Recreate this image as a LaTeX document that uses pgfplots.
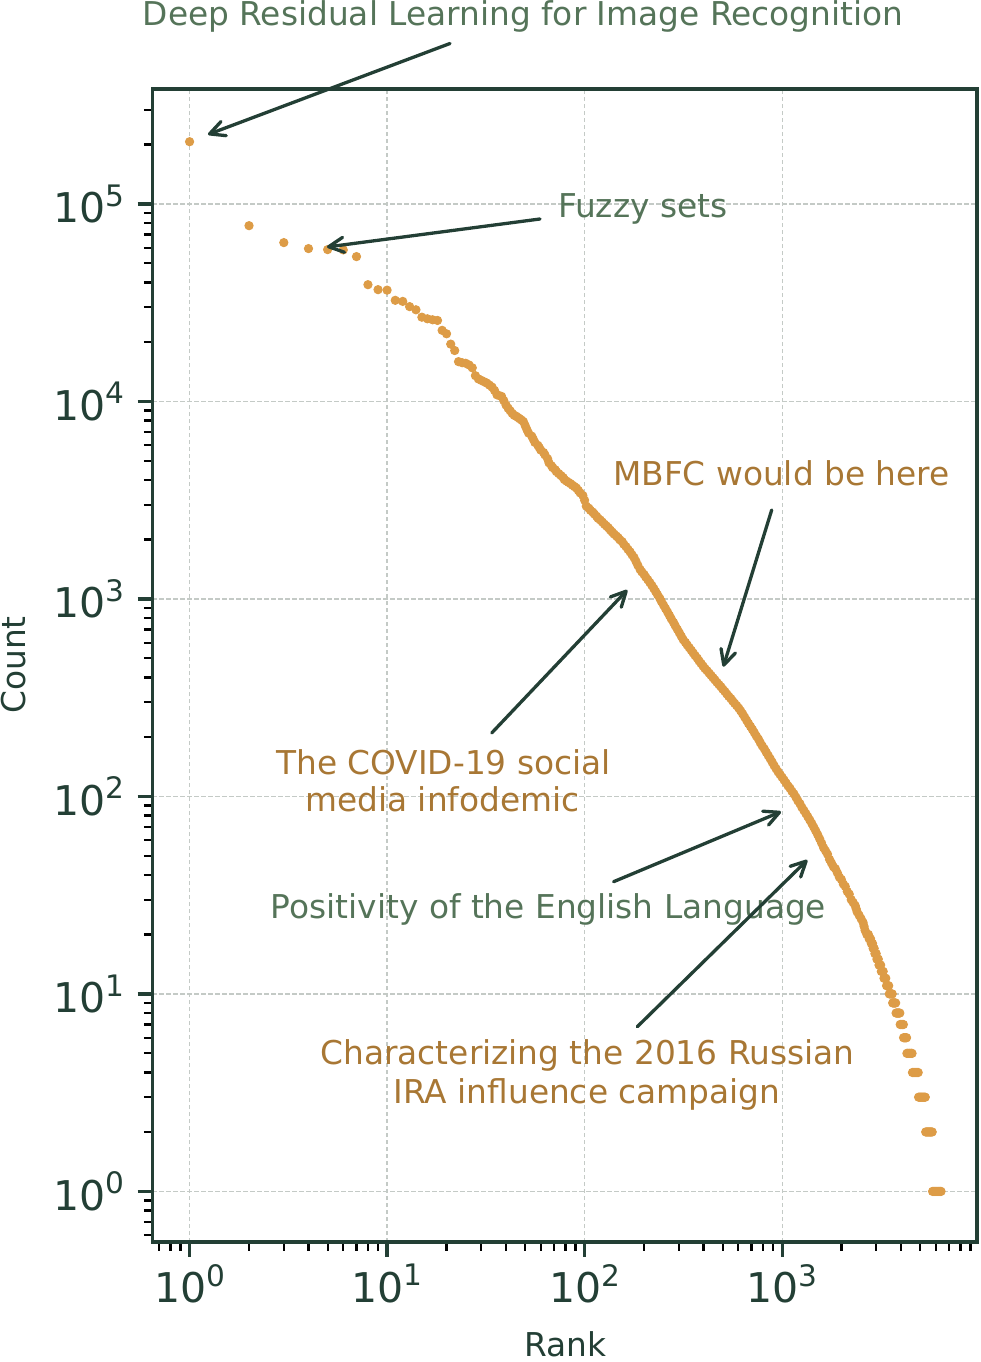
\documentclass[border=0pt]{standalone}
\usepackage{fontspec}
\setmainfont{DejaVu Sans}
\usepackage{pgfplots}
\pgfplotsset{compat=1.18}
\usetikzlibrary{arrows.meta}

\definecolor{spine}{HTML}{233F35}
\definecolor{dot}{HTML}{DD9C47}
\definecolor{notegreen}{HTML}{557459}
\definecolor{notebrown}{HTML}{A87734}
\definecolor{gridgray}{HTML}{C4CAC6}

% power-of-ten tick label set in the text font
\newcommand{\pw}[1]{10\raisebox{0.40em}{\fontsize{14.8pt}{14.8pt}\selectfont #1}}

\begin{document}
\begin{tikzpicture}
\begin{loglogaxis}[
  scale only axis, width=412.25pt, height=576.5pt,
  xmin=0.649, xmax=9700, ymin=0.5544, ymax=381900,
  axis line style={draw=spine, line width=1.6pt},
  tick pos=left, tick align=outside,
  major tick length=7.5pt, minor tick length=4.3pt,
  major tick style={draw=spine, line width=1.6pt},
  minor tick style={draw=black, line width=1.1pt},
  xtick={1,10,100,1000},
  xticklabels={\pw{0},\pw{1},\pw{2},\pw{3}},
  ytick={1,10,100,1000,10000,100000},
  yticklabels={\pw{0},\pw{1},\pw{2},\pw{3},\pw{4},\pw{5}},
  minor xtick={0.7,0.8,0.9,2,3,4,5,6,7,8,9,20,30,40,50,60,70,80,90,200,300,400,500,600,700,800,900,2000,3000,4000,5000,6000,7000,8000,9000},
  minor ytick={0.6,0.7,0.8,0.9,2,3,4,5,6,7,8,9,20,30,40,50,60,70,80,90,200,300,400,500,600,700,800,900,2000,3000,4000,5000,6000,7000,8000,9000,20000,30000,40000,50000,60000,70000,80000,90000,200000,300000},
  tick label style={font=\fontsize{20.5pt}{20.5pt}\selectfont, text=spine},
  yticklabel style={xshift=-3pt},
  grid=major,
  major grid style={draw=gridgray, line width=0.6pt, dash pattern=on 2.2pt off 1.3pt},
]
\addplot[only marks, color=dot, mark=*, mark size=2.05pt,
  mark options={draw=dot, fill=dot, line width=0.5pt}] table[x=rank, y=count] {
rank count
1 206500
2 77600
3 63700
4 59400
5 58700
6 58500
7 54100
8 39000
9 36800
10 36600
11 32500
12 32100
13 30200
14 29100
15 26700
16 26200
17 25900
18 25700
19 22900
20 22000
21 19500
22 18100
23 15900
24 15700
25 15600
26 15300
27 14800
28 13500
29 13000
30 12780
31 12580
32 12380
33 12090
34 11820
35 11360
36 10800
37 10700
38 10600
39 10090
40 9590
41 9240
42 8970
43 8700
44 8510
45 8420
46 8290
47 8160
48 8040
49 7900
50 7550
51 7210
52 6920
54 6670
55 6430
56 6200
58 5990
59 5830
60 5670
62 5510
63 5360
65 5120
66 4890
68 4720
69 4620
71 4510
72 4410
74 4310
76 4210
78 4110
79 4020
81 3950
83 3890
85 3830
87 3760
89 3700
91 3640
93 3540
95 3440
98 3340
100 3160
102 2950
105 2880
107 2810
110 2750
112 2690
115 2620
117 2560
120 2510
123 2450
126 2390
129 2340
132 2290
135 2230
138 2180
141 2130
145 2080
148 2040
151 1990
155 1950
158 1890
162 1840
166 1780
170 1730
174 1670
178 1620
182 1550
186 1480
191 1410
195 1370
200 1330
204 1290
209 1250
214 1210
219 1170
224 1130
229 1090
234 1050
240 1009
245 969
251 930
257 893
263 858
269 824
275 791
282 760
288 730
295 701
302 673
309 646
316 621
324 602
331 584
339 566
347 549
355 532
363 516
372 501
380 485
389 471
398 457
407 444
417 433
427 421
437 410
447 399
457 389
468 378
479 368
490 359
501 349
513 340
525 330
537 321
550 313
562 304
575 296
589 288
603 280
617 271
631 262
646 252
661 243
676 234
692 226
708 218
724 210
741 202
759 195
776 187
794 180
813 174
832 167
851 161
871 155
891 149
912 143
933 138
955 133
977 129
1000 125
1023 121
1047 117
1072 113
1096 110
1122 106
1148 103
1175 99
1202 95
1230 92
1259 88
1288 85
1318 82
1349 79
1380 76
1413 73
1445 70
1479 67
1514 64
1549 61
1585 58
1622 55
1660 53
1698 51
1738 48
1778 46
1820 44
1862 43
1905 41
1950 39
1995 38
2042 36
2089 35
2138 33
2188 32
2239 30
2291 29
2344 28
2371 27
2399 26
2455 25
2512 24
2570 23
2600 22
2630 21
2685 20
2710 20
2735 20
2760 19
2785 19
2805 19
2830 18
2850 18
2870 18
2890 17
2910 17
2925 17
2950 16
2970 16
2995 16
3020 15
3045 15
3070 15
3095 14
3125 14
3155 14
3180 13
3215 13
3250 13
3280 12
3315 12
3350 12
3380 11
3410 11
3440 11
3465 11
3490 10
3520 10
3555 10
3590 10
3610 10
3630 9
3660 9
3695 9
3725 9
3758 9
3776 8
3810 8
3845 8
3880 8
3910 8
3945 8
3963 7
4000 7
4040 7
4075 7
4111 7
4121 6
4160 6
4195 6
4230 6
4266 6
4285 5
4325 5
4370 5
4415 5
4460 5
4505 5
4550 5
4571 4
4620 4
4670 4
4720 4
4775 4
4830 4
4887 4
4909 3
4960 3
5015 3
5070 3
5130 3
5190 3
5250 3
5309 3
5333 2
5390 2
5450 2
5510 2
5570 2
5630 2
5690 2
5754 2
5781 1
5845 1
5910 1
5975 1
6040 1
6110 1
6180 1
6250 1
6320 1
6380 1
};
\end{loglogaxis}

% labels and annotations, laid out on a half-point grid
\begin{scope}[shift={(-76.25pt,621pt)}, x=0.5pt, y=-0.5pt,
  every node/.style={inner sep=0pt, font=\fontsize{16.4pt}{16.4pt}\selectfont}]
  \node[text=spine, anchor=base] at (565,1356) {Rank};
  \node[text=spine, anchor=base, rotate=90] at (26,665) {Count};

  \node[text=notegreen, anchor=base] at (523,26) {Deep Residual Learning for Image Recognition};
  \node[text=notegreen, anchor=base west] at (557.7,217.3) {Fuzzy sets};
  \node[text=notebrown, anchor=base] at (781.5,486) {MBFC would be here};
  \node[text=notebrown, anchor=base] at (443.5,774.3) {The COVID-19 social};
  \node[text=notebrown, anchor=base] at (442.5,811.7) {media infodemic};
  \node[text=notegreen, anchor=base] at (548.5,918.3) {Positivity of the English Language};
  \node[text=notebrown, anchor=base] at (587.5,1065) {Characterizing the 2016 Russian};
  \node[text=notebrown, anchor=base] at (587,1103.3) {IRA influence campaign};

  \begin{scope}[draw=spine, line width=1.65pt, line cap=round,
    -{Straight Barb[length=7.5pt, width=7.5pt, round]}]
    \draw (450,43.5) -- (208,134.5);
    \draw (540,219) -- (327,247);
    \draw (771.7,510) -- (723.3,666.7);
    \draw (491.7,733) -- (627.3,590);
    \draw (613.6,881.7) -- (781,811.7);
    \draw (637.3,1026.7) -- (807.3,860);
  \end{scope}

  \pgfresetboundingbox
  \useasboundingbox (0,0) rectangle (981,1362);
\end{scope}
\end{tikzpicture}
\end{document}
